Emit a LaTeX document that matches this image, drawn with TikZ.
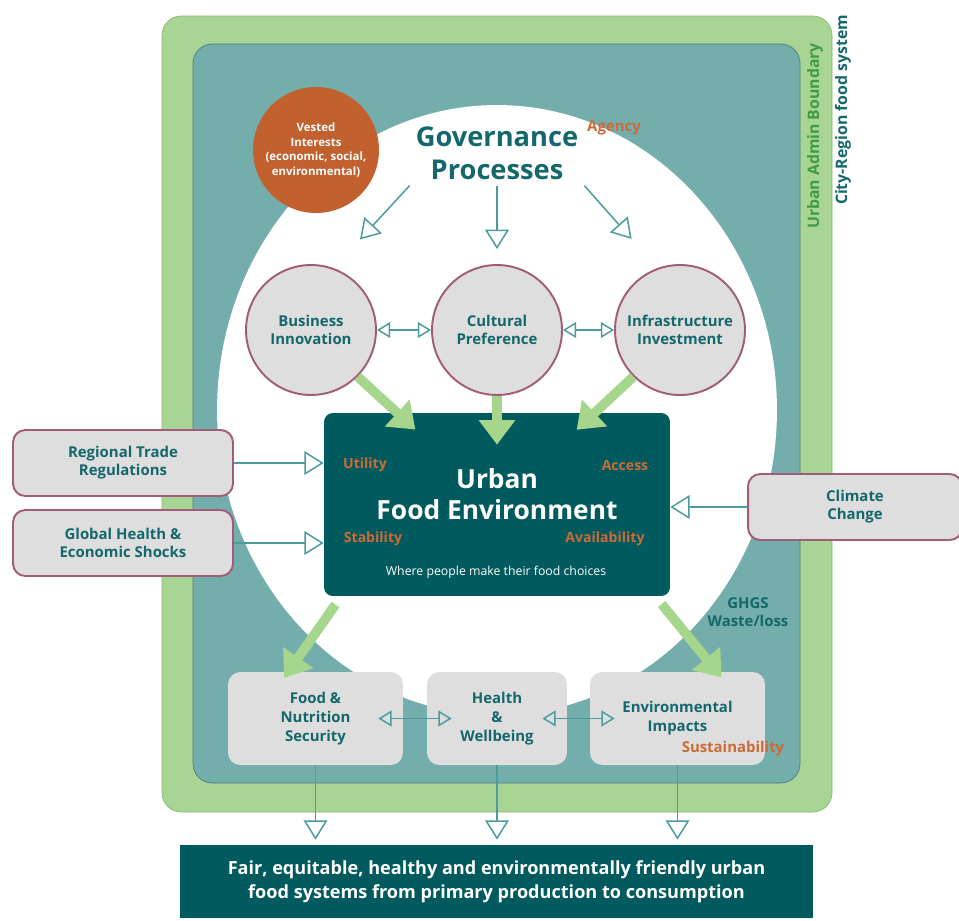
\documentclass[tikz,border=0pt]{standalone}
\usepackage{fontspec}
\setmainfont{Open Sans}
\usetikzlibrary{arrows.meta,positioning,shapes.geometric}
\definecolor{outergreen}{HTML}{A9D594}
\definecolor{outerline}{HTML}{86B872}
\definecolor{midteal}{HTML}{74AEAC}
\definecolor{midline}{HTML}{4E7C7C}
\definecolor{darkteal}{HTML}{015A5E}
\definecolor{textteal}{HTML}{14676A}
\definecolor{boxgray}{HTML}{DEDEDE}
\definecolor{rim}{HTML}{A05C78}
\definecolor{rust}{HTML}{C2602E}
\definecolor{labelorange}{HTML}{CC6B35}
\definecolor{pushgreen}{HTML}{A6D68C}
\definecolor{thinteal}{HTML}{4C9C9E}
\definecolor{admingreen}{HTML}{3F9B45}

\begin{document}
\begin{tikzpicture}[x=0.02cm, y=-0.02cm,
    lever/.style={circle, draw=rim, line width=1.1pt, fill=boxgray, minimum size=2.6cm, inner sep=0pt, align=center, text=textteal, font=\fontsize{8.5}{10.2}\selectfont\bfseries},
    driver/.style={draw=rim, line width=1.1pt, fill=boxgray, rounded corners=7pt, minimum height=1.32cm, align=center, text=textteal, font=\fontsize{8.5}{10.2}\selectfont\bfseries},
    outcome/.style={fill=boxgray, rounded corners=7pt, minimum width=3.5cm, minimum height=1.86cm, align=center, text=textteal, font=\fontsize{8.5}{10.8}\selectfont\bfseries},
    pillar/.style={text=labelorange, font=\fontsize{8}{9.6}\selectfont\bfseries},
    flow/.style={draw=thinteal, line width=0.85pt, -{Triangle[open, length=11pt, width=13.5pt]}},
    link/.style={draw=thinteal, line width=0.85pt, {Triangle[open, length=7.5pt, width=9pt]}-{Triangle[open, length=7.5pt, width=9pt]}},
    push/.style={draw=pushgreen, line width=5.5pt, -{Triangle[length=14pt, width=20pt]}}]
  \useasboundingbox (0,0) rectangle (959,920);

  % Boundaries
  \draw[outerline, fill=outergreen, rounded corners=11pt] (162,16) rectangle (832,812);
  \draw[midline, fill=midteal, rounded corners=11pt] (193,44) rectangle (800,783);
  \fill[white] (497,410) ellipse [x radius=5.6cm, y radius=6.1cm];
  \node[rotate=90, text=admingreen, font=\fontsize{9}{11}\selectfont\bfseries] (admin) at (815,136) {Urban Admin Boundary};
  \node[rotate=90, text=textteal, font=\fontsize{9}{11}\selectfont\bfseries] (region) at (843,110) {City-Region food system};

  % Governance
  \node[circle, fill=rust, minimum size=2.52cm, inner sep=0pt, align=center, text=white, font=\fontsize{6.5}{8.2}\selectfont\bfseries] (vested) at (316,150) {Vested\\Interests\\(economic, social,\\environmental)};
  \node[align=center, text=textteal, font=\fontsize{15.5}{18.7}\selectfont\bfseries] (gov) at (497,153) {Governance\\Processes};
  \node[pillar, font=\fontsize{8.5}{10}\selectfont\bfseries] (agency) at (614,128) {Agency};

  % Levers
  \node[lever] (biz) at (311,330) {Business\\Innovation};
  \node[lever] (cult) at (497,330) {Cultural\\Preference};
  \node[lever] (infra) at (680,330) {Infrastructure\\Investment};

  % Urban food environment
  \node[fill=darkteal, rounded corners=5pt, minimum width=6.92cm, minimum height=3.66cm] (ufe) at (497,504.5) {};
  \node[align=center, text=white, font=\fontsize{15}{18}\selectfont\bfseries] (ufetitle) at (497,494) {Urban\\Food Environment};
  \node[pillar] (utility) at (365,465) {Utility};
  \node[pillar] (access) at (625,466) {Access};
  \node[pillar] (stability) at (373,539) {Stability};
  \node[pillar] (avail) at (605,539) {Availability};
  \node[text=white, font=\fontsize{7}{8.4}\selectfont] (choices) at (496,572) {Where people make their food choices};

  % External drivers
  \node[driver, minimum width=4.4cm] (trade) at (123,463) {Regional Trade\\Regulations};
  \node[driver, minimum width=4.4cm] (shocks) at (123,543) {Global Health \&\\Economic Shocks};
  \node[driver, minimum width=4.28cm] (climate) at (855,507) {Climate\\Change};

  % Outcomes
  \node[outcome] (food) at (315.5,718.5) {Food \&\\Nutrition\\Security};
  \node[outcome, minimum width=2.8cm] (health) at (497,718.5) {Health\\\&\\Wellbeing};
  \node[outcome] (env) at (677.5,718.5) {Environmental\\Impacts};
  \node[text=textteal, align=center, font=\fontsize{8.5}{10.2}\selectfont\bfseries] (ghgs) at (748,612) {GHGS\\Waste/loss};
  \node[pillar, font=\fontsize{8.5}{10.2}\selectfont\bfseries] (sustain) at (733,749) {Sustainability};

  \node[fill=darkteal, minimum width=12.66cm, minimum height=1.46cm, align=center, text=white, font=\fontsize{10.3}{13.6}\selectfont\bfseries] (goal) at (496.5,881.5) {Fair, equitable, healthy and environmentally friendly urban\\food systems from primary production to consumption};

  % Connectors
  \draw[flow, shorten >=0.78cm] (gov.south west) -- (biz.70);
  \draw[flow, shorten >=0.3cm] (gov.south) -- (cult.north);
  \draw[flow, shorten >=0.78cm] (gov.south east) -- (infra.110);
  \draw[link] (biz) -- (cult);
  \draw[link] (cult) -- (infra);

  \draw[push, shorten >=-0.5cm] (biz.south east) -- (ufe);
  \draw[push, shorten >=-0.64cm] (cult) -- (ufe);
  \draw[push, shorten >=-0.5cm] (infra.south west) -- (ufe);

  \draw[flow] (trade) -- (trade -| ufe.west);
  \draw[flow] (shocks) -- (shocks -| ufe.west);
  \draw[flow] (climate) -- (climate -| ufe.east);

  \draw[push, shorten <=0.2cm, shorten >=-0.15cm] ([xshift=0.35cm]ufe.south west) -- (food.120);
  \draw[push, shorten <=0.2cm, shorten >=-0.15cm] ([xshift=-0.3cm]ufe.south east) -- (env.50);

  \draw[link, shorten <=-0.5cm, shorten >=-0.5cm] (food) -- (health);
  \draw[link, shorten <=-0.5cm, shorten >=-0.5cm] (health) -- (env);

  \draw[flow, shorten >=0.1cm] (food) -- (food |- goal.north);
  \draw[flow, shorten >=0.1cm] (health) -- (health |- goal.north);
  \draw[flow, shorten >=0.1cm] (env) -- (env |- goal.north);
\end{tikzpicture}
\end{document}
